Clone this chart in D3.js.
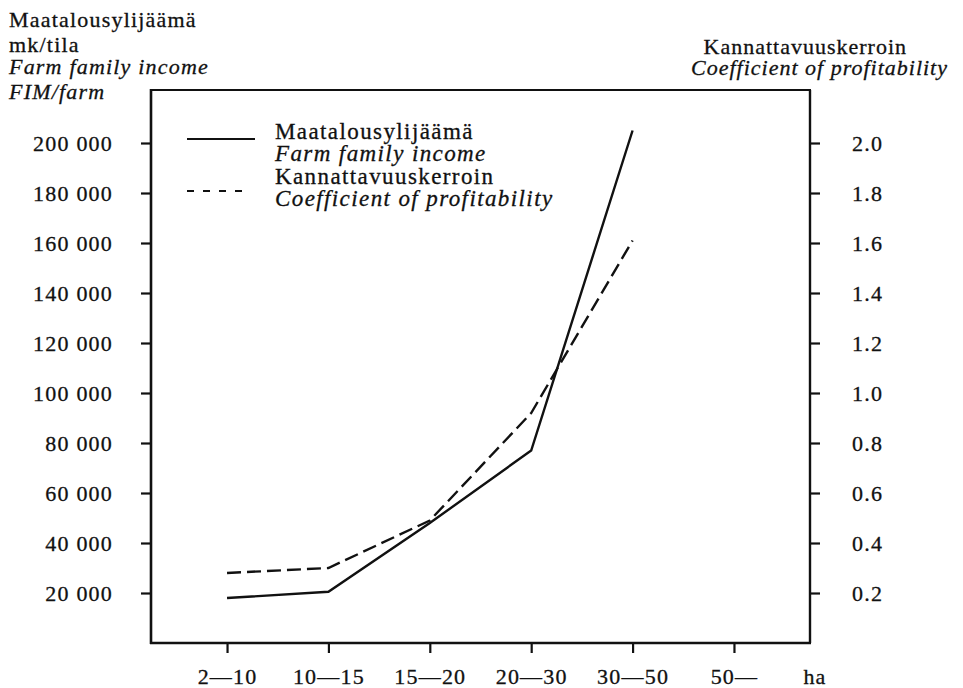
<!DOCTYPE html>
<html>
<head>
<meta charset="utf-8">
<script src="https://cdn.jsdelivr.net/npm/d3@7"></script>
<style>
  html, body { margin: 0; padding: 0; background: #fff; }
  svg { display: block; }
  text { font-family: "Liberation Serif", "Times New Roman", serif; fill: #111; stroke: #111; stroke-width: 0.3px; }
</style>
</head>
<body>
<svg id="chart" width="963" height="688"></svg>
<script>
// Farm size classes (hectares of arable land)
const sizeClasses = ["2—10", "10—15", "15—20", "20—30", "30—50", "50—"];
// Farm family income, FIM per farm
const incomeClasses = ["2—10", "10—15", "15—20", "20—30", "30—50"];
const incomeValues = [18000, 20500, 48000, 77000, 205000];
// Coefficient of profitability
const coefValues = [0.28, 0.30, 0.49, 0.92, 1.61];
// Axis ticks
const incomeTicks = [20000, 40000, 60000, 80000, 100000, 120000, 140000, 160000, 180000, 200000];
const coefTicks = [0.2, 0.4, 0.6, 0.8, 1.0, 1.2, 1.4, 1.6, 1.8, 2.0];

const svg = d3.select("#chart");
const frame = { left: 151, right: 810, top: 90, bottom: 643 };

const x = d3.scalePoint().domain(sizeClasses).range([frame.left, frame.right]).padding(0.75);
const yIncome = d3.scaleLinear().domain([0, 200000]).range([frame.bottom, 143]);
const yCoef = d3.scaleLinear().domain([0, 2]).range([frame.bottom, 143]);

const fmtIncome = v => d3.format(",")(v).replace(/,/g, " ");

const ink = "#111";
const fontSize = 22;
const spacing = "1.2px";

// Frame: top and right edges
svg.append("path")
  .attr("d", `M${frame.left},${frame.top}H${frame.right}V${frame.bottom}`)
  .attr("fill", "none").attr("stroke", ink).attr("stroke-width", 2);

// Left axis
const gL = svg.append("g").attr("transform", `translate(${frame.left},0)`)
  .call(d3.axisLeft(yIncome).tickValues(incomeTicks).tickSize(10).tickPadding(28).tickFormat(fmtIncome));
// Right axis
const gR = svg.append("g").attr("transform", `translate(${frame.right},0)`)
  .call(d3.axisRight(yCoef).tickValues(coefTicks).tickSize(10).tickPadding(32).tickFormat(d3.format(".1f")));
// Bottom axis
const gB = svg.append("g").attr("transform", `translate(0,${frame.bottom})`)
  .call(d3.axisBottom(x).tickSize(10).tickPadding(15));

[gL, gR, gB].forEach(g => {
  g.select(".domain").remove();
  g.selectAll(".tick line").attr("stroke", ink).attr("stroke-width", 2.2);
  g.selectAll(".tick text").attr("font-size", fontSize).attr("fill", ink)
    .style("font-family", '"Liberation Serif", serif')
    .style("letter-spacing", spacing);
});

// Axis spines
svg.append("line").attr("x1", frame.left).attr("x2", frame.left)
  .attr("y1", frame.top - 1).attr("y2", frame.bottom + 1)
  .attr("stroke", ink).attr("stroke-width", 2.6);
svg.append("line").attr("x1", frame.left - 1).attr("x2", frame.right + 1)
  .attr("y1", frame.bottom).attr("y2", frame.bottom)
  .attr("stroke", ink).attr("stroke-width", 2.6);
svg.append("line").attr("x1", frame.right).attr("x2", frame.right)
  .attr("y1", frame.top).attr("y2", frame.bottom)
  .attr("stroke", ink).attr("stroke-width", 2.4);

// Unit label on x axis
svg.append("text").attr("x", 815).attr("y", 684).attr("text-anchor", "middle")
  .attr("font-size", fontSize).style("letter-spacing", spacing).text("ha");

// Series lines
const incomeLine = d3.line().x((d, i) => x(incomeClasses[i])).y(d => yIncome(d));
const coefLine = d3.line().x((d, i) => x(incomeClasses[i])).y(d => yCoef(d));

svg.append("path").datum(incomeValues).attr("d", incomeLine)
  .attr("fill", "none").attr("stroke", ink).attr("stroke-width", 2.4)
  .attr("stroke-linejoin", "miter");
svg.append("path").datum(coefValues).attr("d", coefLine)
  .attr("fill", "none").attr("stroke", ink).attr("stroke-width", 2.4)
  .attr("stroke-dasharray", "14,6");

// Left axis title
const leftTitle = [
  { t: "Maatalousylijäämä", it: false, y: 27 },
  { t: "mk/tila", it: false, y: 52 },
  { t: "Farm family income", it: true, y: 74 },
  { t: "FIM/farm", it: true, y: 99 }
];
svg.append("g").selectAll("text").data(leftTitle).join("text")
  .attr("x", 9).attr("y", d => d.y).attr("font-size", fontSize)
  .style("letter-spacing", spacing)
  .attr("font-style", d => d.it ? "italic" : "normal")
  .text(d => d.t);

// Right axis title
const rightTitle = [
  { t: "Kannattavuuskerroin", it: false, y: 54, x: 907 },
  { t: "Coefficient of profitability", it: true, y: 75, x: 948 }
];
svg.append("g").selectAll("text").data(rightTitle).join("text")
  .attr("x", d => d.x).attr("y", d => d.y).attr("font-size", fontSize)
  .attr("text-anchor", "end")
  .style("letter-spacing", "1px")
  .attr("font-style", d => d.it ? "italic" : "normal")
  .text(d => d.t);

// Legend
const legend = svg.append("g");
legend.append("line").attr("x1", 187).attr("x2", 255).attr("y1", 139).attr("y2", 139)
  .attr("stroke", ink).attr("stroke-width", 2);
legend.append("line").attr("x1", 187).attr("x2", 244).attr("y1", 191).attr("y2", 191)
  .attr("stroke", ink).attr("stroke-width", 2.2).attr("stroke-dasharray", "7,9");
const legendText = [
  { t: "Maatalousylijäämä", it: false, y: 139 },
  { t: "Farm family income", it: true, y: 161 },
  { t: "Kannattavuuskerroin", it: false, y: 184 },
  { t: "Coefficient of profitability", it: true, y: 206 }
];
legend.selectAll("text").data(legendText).join("text")
  .attr("x", 275).attr("y", d => d.y).attr("font-size", 23)
  .style("letter-spacing", "1.4px")
  .attr("font-style", d => d.it ? "italic" : "normal")
  .text(d => d.t);
</script>
</body>
</html>
